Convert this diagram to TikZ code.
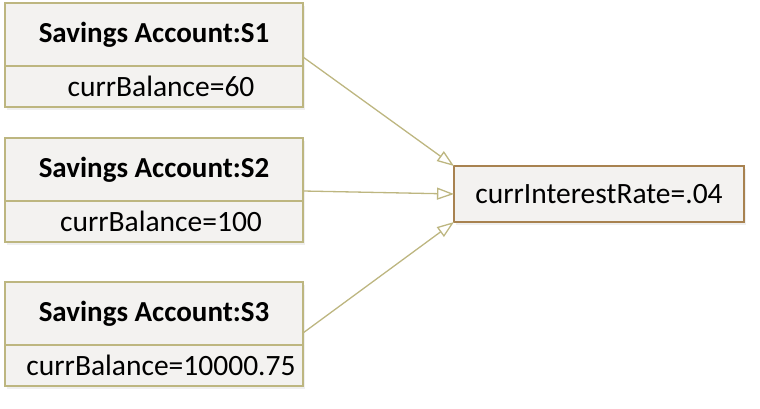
\documentclass[tikz,border=0pt]{standalone}
\usepackage{fontspec}
\setmainfont{Carlito}
\usepackage{tikz}
\usetikzlibrary{positioning,arrows.meta,shadows}
\definecolor{acctline}{RGB}{189,182,128}
\definecolor{rateline}{RGB}{168,130,80}
\definecolor{boxfill}{RGB}{243,242,240}

\begin{document}
\begin{tikzpicture}[x=1pt,y=-1pt,
    every node/.style={font=\fontsize{29.5}{33}\selectfont, fill=boxfill, line width=2pt,
      inner sep=0pt, outer sep=0pt,
      drop shadow={shadow xshift=2pt,shadow yshift=-3pt,fill=black!12}},
    title/.style={draw=acctline, minimum width=298pt, minimum height=63pt,
      font=\fontsize{29}{33}\selectfont\bfseries},
    field/.style={draw=acctline, minimum width=298pt, minimum height=41pt,
      execute at begin node={\hspace*{14pt}}},
    link/.style={draw=acctline, line width=1.3pt, -{Triangle[open,length=17pt,width=12pt]}}]
      \useasboundingbox (0,0) rectangle (760,409);
      \node[title] (t1) at (154,34.5) {Savings Account:S1};
      \node[field, below=0pt of t1] (b1) {currBalance=60};
      \node[title] (t2) at (154,169.5) {Savings Account:S2};
      \node[field, below=0pt of t2] (b2) {currBalance=100};
      \node[title] (t3) at (154,313.5) {Savings Account:S3};
      \node[field, below=0pt of t3] (b3) {currBalance=10000.75};
      \node[draw=rateline, minimum width=290pt, minimum height=56pt] (rate) at (599,194) {currInterestRate=.04};
      \draw[link] ([yshift=-22.5pt]t1.east) -- (rate.north west);
      \draw[link] ([yshift=-21.5pt]t2.east) -- (rate.west);
      \draw[link] ([yshift=-19.5pt]t3.east) -- (rate.south west);
    \end{tikzpicture}
\end{document}
